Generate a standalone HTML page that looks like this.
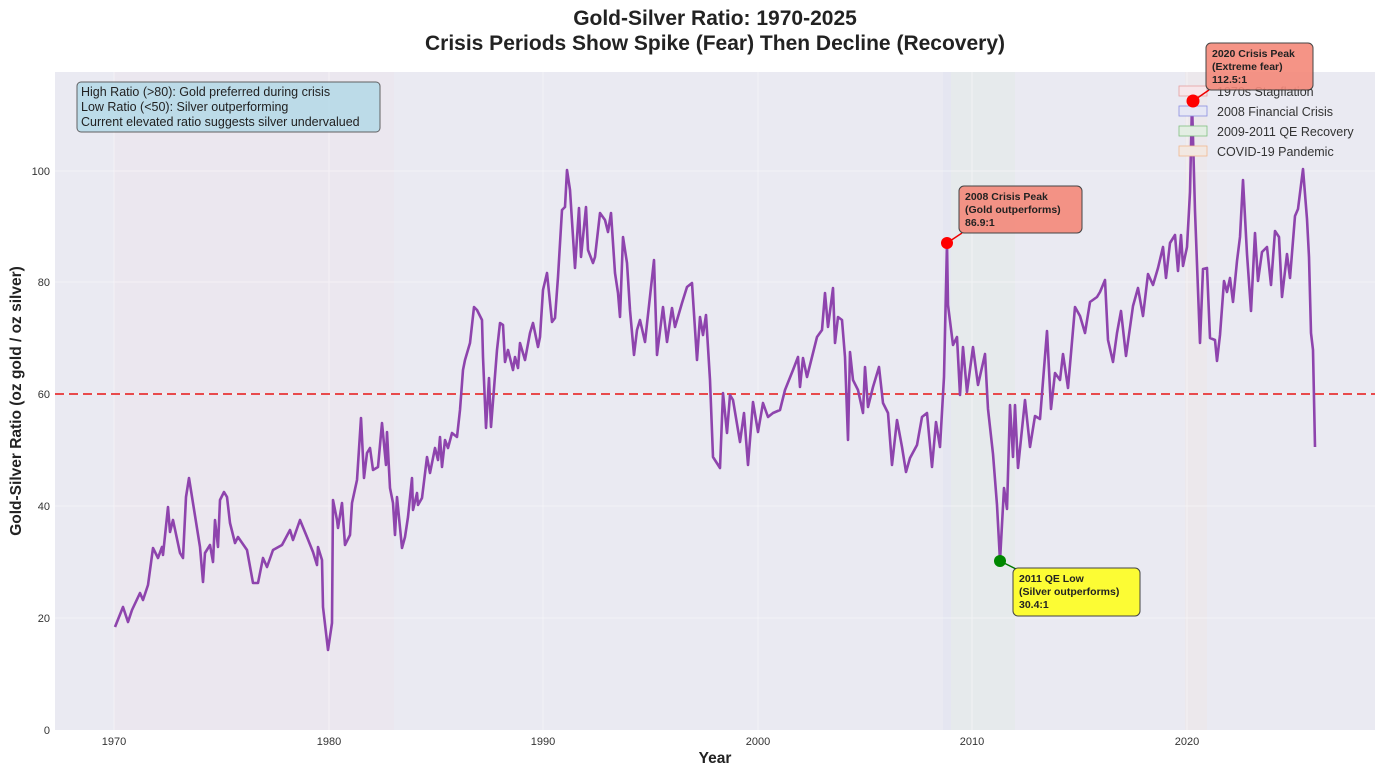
<!DOCTYPE html>
<html><head><meta charset="utf-8"><style>
body{margin:0;background:#fff;width:1384px;height:775px;overflow:hidden;font-family:"Liberation Sans",sans-serif}
</style></head><body>
<svg width="1384" height="775" xmlns="http://www.w3.org/2000/svg" font-family="Liberation Sans, sans-serif">
<rect x="55" y="72" width="1320" height="658" fill="#eaeaf2"/>
<!-- shaded periods -->
<rect x="114" y="72" width="280" height="658" fill="#f4d9df" opacity="0.12"/>
<rect x="943" y="72" width="8" height="658" fill="#c9cff0" opacity="0.12"/>
<rect x="951" y="72" width="64" height="658" fill="#d6ecd6" opacity="0.2"/>
<rect x="1185" y="72" width="22" height="658" fill="#f6dcc8" opacity="0.15"/>
<!-- grid -->
<g stroke="#fff" stroke-width="1" opacity="0.45">
<line x1="55" x2="1375" y1="618" y2="618"/><line x1="55" x2="1375" y1="506" y2="506"/>
<line x1="55" x2="1375" y1="394" y2="394"/><line x1="55" x2="1375" y1="282" y2="282"/>
<line x1="55" x2="1375" y1="171" y2="171"/>
<line y1="72" y2="730" x1="114" x2="114"/><line y1="72" y2="730" x1="329" x2="329"/>
<line y1="72" y2="730" x1="543" x2="543"/><line y1="72" y2="730" x1="758" x2="758"/>
<line y1="72" y2="730" x1="972" x2="972"/><line y1="72" y2="730" x1="1187" x2="1187"/>
</g>
<g font-size="11" fill="#333" text-anchor="end">
<text x="50" y="734">0</text><text x="50" y="622">20</text><text x="50" y="510">40</text>
<text x="50" y="398">60</text><text x="50" y="286">80</text><text x="50" y="175">100</text>
</g>
<g font-size="11" fill="#333" text-anchor="middle">
<text x="114" y="745">1970</text><text x="329" y="745">1980</text><text x="543" y="745">1990</text>
<text x="758" y="745">2000</text><text x="972" y="745">2010</text><text x="1187" y="745">2020</text>
</g>
<line x1="55" x2="1375" y1="394" y2="394" stroke="#e8383a" stroke-width="2" stroke-dasharray="9,5" opacity="0.9"/>
<polyline fill="none" stroke="#8e44ad" stroke-width="2.6" stroke-linejoin="round" points="
115,627 123,607 128,622 132,610 140,593 143,600 148,585 153,548 158,558 162,547 163,555 168,507 170,532 173,520 180,553 183,558 186,497 189,478 200,547 203,582 205,553 210,545 213,562 215,520 218,547 220,500 224,492 227,497 230,523 235,543 238,537 247,550 253,583 258,583 263,558 267,567 273,550 282,545 290,530 293,540 300,520 307,537 313,552 317,565 318,547 322,560 323,607 328,650 332,623 333,500 337,520 338,528 342,503 345,545 350,535 352,503 357,480 361,418 364,478 367,453 370,448 373,470 378,467 382,423 386,465 387,432 390,488 393,503 395,535 397,497 402,548 405,537 408,517 412,478 413,510 417,493 418,505 422,498 427,457 430,473 435,448 438,460 440,437 442,467 445,440 448,448 452,433 457,437 460,410 463,370 465,360 470,343 474,307 477,310 482,320 483,357 486,428 489,378 491,427 497,350 500,323 503,325 505,362 508,350 513,370 515,357 518,368 520,343 525,360 530,333 533,323 538,347 540,337 543,290 547,273 552,322 555,318 558,277 562,210 565,207 567,170 570,190 575,268 579,208 581,257 586,207 588,250 593,263 595,257 600,213 605,220 608,232 611,213 615,273 618,293 620,317 623,237 627,263 630,310 634,355 637,330 640,320 645,342 654,260 657,355 663,307 667,342 672,308 675,327 682,303 687,287 692,283 697,360 700,317 703,335 706,315 710,380 713,457 720,468 723,393 727,433 730,395 733,400 740,442 744,413 748,465 753,402 758,432 763,403 768,417 773,413 780,410 785,390 793,370 798,357 800,387 803,358 807,377 812,357 817,337 822,330 825,293 828,327 833,288 835,343 838,317 842,320 845,357 848,440 850,352 853,380 858,390 863,413 865,367 868,407 873,387 879,367 883,403 888,413 892,465 897,420 902,447 906,472 910,458 917,445 922,417 927,413 932,467 936,422 940,447 944,377 947,243 948,305 953,345 957,337 960,395 963,347 967,392 973,347 978,385 985,354 988,409 993,454 997,505 1000,561 1004,488 1007,509 1010,405 1013,457 1015,405 1018,468 1025,400 1030,447 1035,416 1040,419 1047,331 1051,409 1055,373 1060,380 1063,354 1068,388 1075,307 1080,316 1085,333 1090,302 1097,297 1100,292 1105,280 1108,340 1113,362 1117,333 1121,311 1126,356 1133,306 1138,288 1143,316 1148,274 1153,285 1158,268 1163,247 1166,278 1170,243 1175,235 1178,271 1181,235 1183,266 1187,247 1190,192 1192,102 1195,211 1200,343 1203,269 1207,268 1210,338 1215,340 1217,361 1220,335 1224,281 1227,292 1230,278 1233,302 1237,261 1240,237 1243,180 1247,254 1251,311 1255,233 1258,281 1262,252 1267,247 1271,285 1275,231 1279,237 1282,297 1287,254 1290,278 1295,216 1298,209 1303,169 1307,219 1309,257 1311,333 1313,350 1315,447"/>
<!-- legend -->
<g font-size="12.5" fill="#333">
<rect x="1179" y="86" width="28" height="10" fill="#f7e6ea" stroke="#e6a0a0" stroke-width="0.8"/><text x="1217" y="96">1970s Stagflation</text>
<rect x="1179" y="106" width="28" height="10" fill="#e6e7f5" stroke="#8a8ee0" stroke-width="0.8"/><text x="1217" y="116">2008 Financial Crisis</text>
<rect x="1179" y="126" width="28" height="10" fill="#e3eee3" stroke="#80c080" stroke-width="0.8"/><text x="1217" y="136">2009-2011 QE Recovery</text>
<rect x="1179" y="146" width="28" height="10" fill="#f2e8e2" stroke="#f0b890" stroke-width="0.8"/><text x="1217" y="156">COVID-19 Pandemic</text>
</g>
<!-- annotations -->
<line x1="947" y1="243" x2="962" y2="233" stroke="#e00" stroke-width="1.5"/>
<circle cx="947" cy="243" r="6" fill="#f00"/>
<rect x="959" y="186" width="123" height="47" rx="5" fill="#f4897a" opacity="0.9" stroke="#333"/>
<g font-size="10.5" font-weight="bold" fill="#222"><text x="965" y="200">2008 Crisis Peak</text><text x="965" y="213">(Gold outperforms)</text><text x="965" y="226">86.9:1</text></g>
<line x1="1000" y1="561" x2="1016" y2="569" stroke="#070" stroke-width="1.5"/>
<circle cx="1000" cy="561" r="6" fill="#080"/>
<rect x="1013" y="568" width="127" height="48" rx="5" fill="#ffff20" opacity="0.9" stroke="#333"/>
<g font-size="10.5" font-weight="bold" fill="#222"><text x="1019" y="582">2011 QE Low</text><text x="1019" y="595">(Silver outperforms)</text><text x="1019" y="608">30.4:1</text></g>
<line x1="1193" y1="101" x2="1209" y2="90" stroke="#e00" stroke-width="1.5"/>
<circle cx="1193" cy="101" r="6.5" fill="#f00"/>
<rect x="1206" y="43" width="107" height="47" rx="5" fill="#f4897a" opacity="0.9" stroke="#333"/>
<g font-size="10.5" font-weight="bold" fill="#222"><text x="1212" y="57">2020 Crisis Peak</text><text x="1212" y="70">(Extreme fear)</text><text x="1212" y="83">112.5:1</text></g>
<rect x="77" y="82" width="303" height="50" rx="4" fill="#add8e6" opacity="0.75" stroke="#333"/>
<g font-size="12.5" fill="#222"><text x="81" y="96">High Ratio (&gt;80): Gold preferred during crisis</text><text x="81" y="111">Low Ratio (&lt;50): Silver outperforming</text><text x="81" y="126">Current elevated ratio suggests silver undervalued</text></g>
<!-- titles -->
<g font-weight="bold" fill="#222" text-anchor="middle">
<text x="715" y="25" font-size="21">Gold-Silver Ratio: 1970-2025</text>
<text x="715" y="50" font-size="21">Crisis Periods Show Spike (Fear) Then Decline (Recovery)</text>
<text x="715" y="763" font-size="15.5">Year</text>
<text transform="translate(21,401) rotate(-90)" font-size="15.5">Gold-Silver Ratio (oz gold / oz silver)</text>
</g>
</svg>
</body></html>
